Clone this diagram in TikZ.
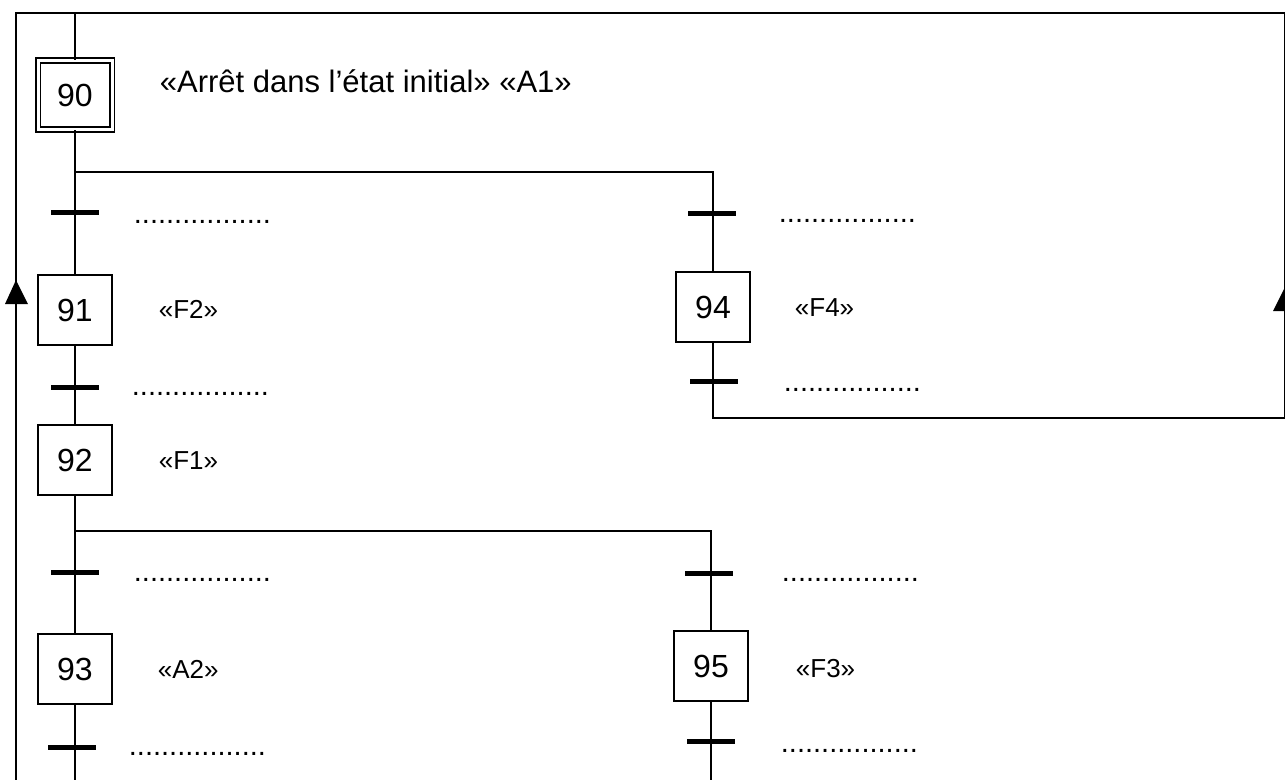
\documentclass[tikz,border=0pt]{standalone}
\usepackage{fontspec}
\setmainfont{Liberation Sans}
\begin{document}
\begin{tikzpicture}[x=1pt,y=-1pt,
  line width=1.8pt,
  stepbox/.style={draw,line width=1.6pt,minimum width=74pt,minimum height=70pt,inner sep=0pt,font=\fontsize{32}{38}\selectfont},
  initbox/.style={stepbox,double,double distance=3pt,line width=1.9pt,minimum width=74pt,minimum height=69pt},
  trans/.style={fill=black,draw=none,minimum width=48pt,minimum height=5pt,inner sep=0pt},
  act/.style={anchor=base west,inner sep=0pt,font=\fontsize{26}{30}\selectfont},
  title/.style={anchor=base west,inner sep=0pt,font=\fontsize{31}{36}\selectfont},
  recep/.style={anchor=base west,inner sep=0pt,font=\fontsize{29}{34}\selectfont},
  arrowtri/.style={fill=black}]
\useasboundingbox (0,0) rectangle (1285,780);

% steps
\node[initbox] (s90) at (75,95) {90};
\node[stepbox] (s91) at (75,310) {91};
\node[stepbox] (s92) at (75,460) {92};
\node[stepbox] (s93) at (75,669) {93};
\node[stepbox] (s94) at (713,307) {94};
\node[stepbox] (s95) at (711,666) {95};

% transitions
\node[trans] (t1) at (75,212) {};
\node[trans] (t2) at (75,387) {};
\node[trans] (t3) at (75,572) {};
\node[trans] (t4) at (72,747) {};
\node[trans] (t5) at (712,213) {};
\node[trans] (t6) at (714,381) {};
\node[trans] (t7) at (709,573) {};
\node[trans] (t8) at (711,741) {};

% coordinates
\coordinate (top90) at (75,13);
\coordinate (topL) at (16,13);
\coordinate (topR) at (1285,13);
\coordinate (botL) at (16,780);
\coordinate (split1) at (75,172);
\coordinate (split2) at (75,531);
\coordinate (ret94) at (713,418);
\coordinate (retR) at (1285,418);
\coordinate (end93) at (75,780);
\coordinate (end95) at (711,780);

% left branch
\draw (top90) -- (s90.north);
\draw (s90.south) -- (s91.north);
\draw (s91.south) -- (s92.north);
\draw (s92.south) -- (s93.north);
\draw (s93.south) -- (end93);

% divergence 1
\draw (split1) -| (s94.north);
\draw (s94.south) -- (ret94) -- (retR) -- (topR) -- (topL) -- (botL);

% divergence 2
\draw (split2) -| (s95.north);
\draw (s95.south) -- (end95);

% arrows on return lines
\fill[arrowtri] (16,280) -- (5,304) -- (28,304) -- cycle;
\fill[arrowtri] (1285,287) -- (1273,311) -- (1297,311) -- cycle;

% texts
\node[title] (a90) at (159,92) {«Arrêt dans l’état initial» «A1»};
\node[act] (a91) at (158,318) {«F2»};
\node[act] (a92) at (158,469) {«F1»};
\node[act] (a93) at (157,678) {«A2»};
\node[act] (a94) at (794,316) {«F4»};
\node[act] (a95) at (795,677) {«F3»};

% receptivities (dotted placeholders)
\node[recep] (r1) at (133,223.5) {.................};
\node[recep] (r2) at (131,395.5) {.................};
\node[recep] (r3) at (133,581.5) {.................};
\node[recep] (r4) at (128,755.5) {.................};
\node[recep] (r5) at (778,222.5) {.................};
\node[recep] (r6) at (783,391.5) {.................};
\node[recep] (r7) at (781,581.5) {.................};
\node[recep] (r8) at (780,752.5) {.................};
\end{tikzpicture}
\end{document}
